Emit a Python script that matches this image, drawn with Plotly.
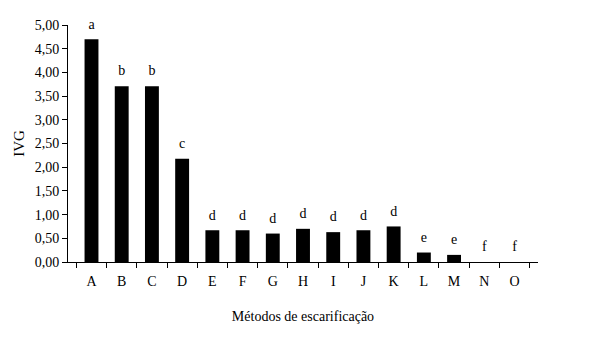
import plotly.graph_objects as go

categories = ["A", "B", "C", "D", "E", "F", "G", "H", "I", "J", "K", "L", "M", "N", "O"]
ivg = [4.70, 3.71, 3.71, 2.18, 0.67, 0.67, 0.60, 0.70, 0.63, 0.67, 0.75, 0.20, 0.15, 0.0, 0.0]
letters = ["a", "b", "b", "c", "d", "d", "d", "d", "d", "d", "d", "e", "e", "f", "f"]
label_offset = 0.3

font_family = "Liberation Serif"

fig = go.Figure()
fig.add_trace(go.Bar(
    x=categories, y=ivg,
    marker=dict(color="black", line=dict(width=0)),
    showlegend=False,
))
fig.add_trace(go.Scatter(
    x=categories, y=[v + label_offset for v in ivg],
    text=letters, mode="text", textposition="middle center",
    textfont=dict(family=font_family, size=14, color="black"),
    showlegend=False, cliponaxis=False,
))

fig.update_layout(
    width=606, height=353,
    margin=dict(l=54, r=76, t=10, b=99),
    paper_bgcolor="white", plot_bgcolor="white",
    bargap=0.54,
    separators=",.",
    font=dict(family=font_family, size=14, color="black"),
)
fig.update_xaxes(
    showline=True, linecolor="black", linewidth=1,
    ticks="outside", tickson="boundaries", ticklen=5, tickcolor="black",
    ticklabelstandoff=6,
    showgrid=False,
    title=dict(text="Métodos de escarificação", font=dict(family=font_family, size=14), standoff=23),
    tickfont=dict(family=font_family, size=14),
)
fig.update_yaxes(
    range=[0, 5], dtick=0.5, tickformat=".2f",
    showline=True, linecolor="black", linewidth=1,
    ticks="outside", ticklen=5, tickcolor="black",
    showgrid=False, zeroline=False,
    title=dict(text="IVG", font=dict(family=font_family, size=15), standoff=6),
    tickfont=dict(family=font_family, size=14),
)

fig.write_html("out.html")
